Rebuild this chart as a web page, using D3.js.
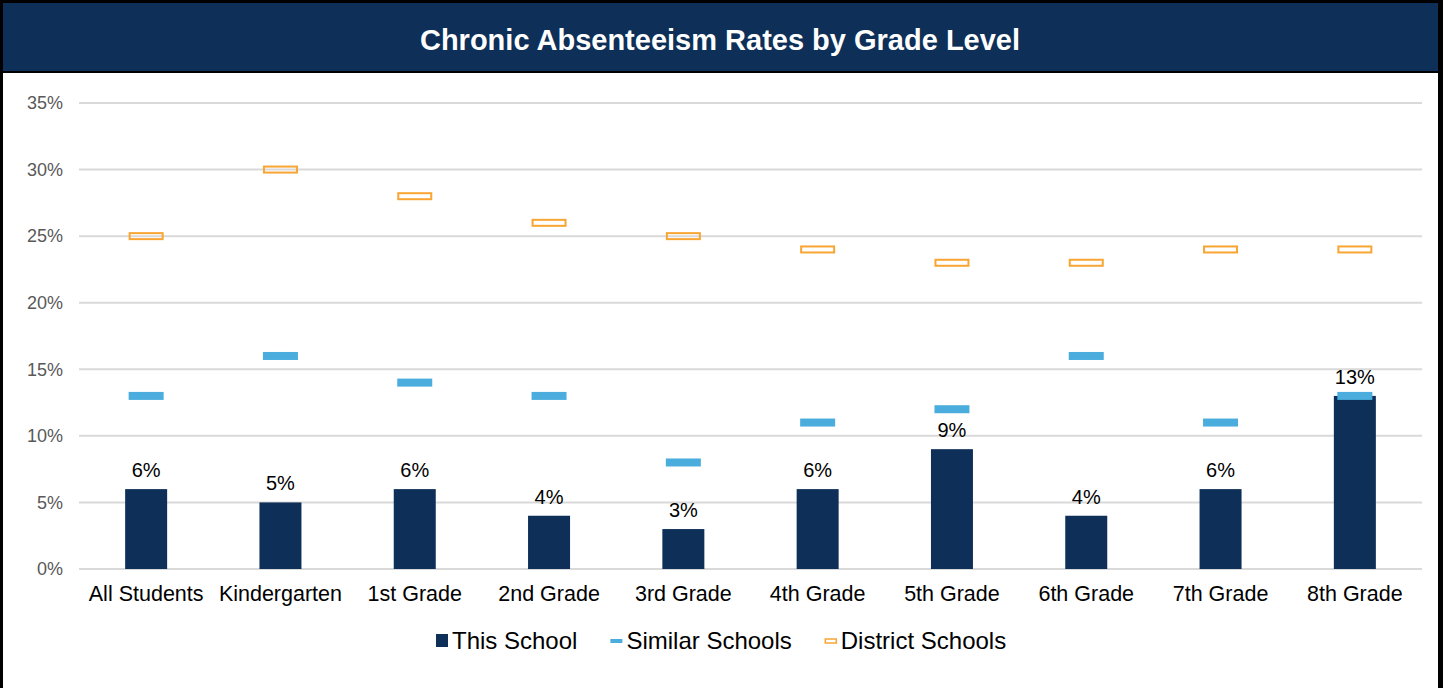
<!DOCTYPE html>
<html>
<head>
<meta charset="utf-8">
<title>Chronic Absenteeism</title>
<script src="https://d3js.org/d3.v7.min.js"></script>
<style>
  body { margin: 0; background: #fff; }
  text { font-family: "Liberation Sans", Arial, sans-serif; }
</style>
</head>
<body>
<div id="chart"></div>
<script>
// chart data
var grades = ["All Students", "Kindergarten", "1st Grade", "2nd Grade", "3rd Grade",
              "4th Grade", "5th Grade", "6th Grade", "7th Grade", "8th Grade"];
var thisSchool = [6, 5, 6, 4, 3, 6, 9, 4, 6, 13];
var similarSchools = [13, 16, 14, 13, 8, 11, 12, 16, 11, 13];
var districtSchools = [25, 30, 28, 26, 25, 24, 23, 23, 24, 24];
var yTicks = [0, 5, 10, 15, 20, 25, 30, 35];
var seriesNames = ["This School", "Similar Schools", "District Schools"];

var W = 1443, H = 688;
var navy = "#0d2f58", blue = "#4aaddd", orange = "#f8a534";

var svg = d3.select("#chart").append("svg")
  .attr("width", W).attr("height", H);

// frame + title band
svg.append("rect").attr("x", 0).attr("y", 0).attr("width", W).attr("height", H).attr("fill", "#000");
svg.append("rect").attr("x", 3).attr("y", 73).attr("width", 1435).attr("height", H - 73).attr("fill", "#fff");
svg.append("rect").attr("x", 3).attr("y", 3).attr("width", 1435).attr("height", 68).attr("fill", navy);
svg.append("text")
  .attr("x", 720).attr("y", 40).attr("dy", "0.35em")
  .attr("text-anchor", "middle")
  .attr("fill", "#fff").attr("font-weight", "bold").attr("font-size", "29px")
  .text("Chronic Absenteeism Rates by Grade Level");

var x = d3.scaleBand().domain(grades).range([79, 1422]).paddingInner(0).paddingOuter(0);
var y = d3.scaleLinear().domain([0, 35]).range([569, 103]);

// gridlines
svg.append("g").selectAll("line").data(yTicks).enter().append("line")
  .attr("x1", 79).attr("x2", 1422)
  .attr("y1", function(d){ return y(d); }).attr("y2", function(d){ return y(d); })
  .attr("stroke", "#d9d9d9").attr("stroke-width", 2);

// y labels
svg.append("g").selectAll("text").data(yTicks).enter().append("text")
  .attr("x", 63).attr("y", function(d){ return y(d); }).attr("dy", "0.35em")
  .attr("text-anchor", "end").attr("font-size", "18px").attr("fill", "#595959")
  .text(function(d){ return d + "%"; });

// x labels
svg.append("g").selectAll("text").data(grades).enter().append("text")
  .attr("x", function(d){ return x(d) + x.bandwidth() / 2; })
  .attr("y", 601).attr("text-anchor", "middle").attr("font-size", "21.5px").attr("fill", "#000")
  .text(function(d){ return d; });

var barW = 42, markW = 35;

// bars
svg.append("g").selectAll("rect").data(thisSchool).enter().append("rect")
  .attr("x", function(d, i){ return x(grades[i]) + x.bandwidth() / 2 - barW / 2; })
  .attr("y", function(d){ return y(d); })
  .attr("width", barW)
  .attr("height", function(d){ return y(0) - y(d); })
  .attr("fill", navy);

// bar labels
svg.append("g").selectAll("text").data(thisSchool).enter().append("text")
  .attr("x", function(d, i){ return x(grades[i]) + x.bandwidth() / 2; })
  .attr("y", function(d){ return y(d) - 12; })
  .attr("text-anchor", "middle").attr("font-size", "20px").attr("fill", "#000")
  .text(function(d){ return d + "%"; });

// district markers (outlined)
svg.append("g").selectAll("rect").data(districtSchools).enter().append("rect")
  .attr("x", function(d, i){ return x(grades[i]) + x.bandwidth() / 2 - markW / 2 + 1; })
  .attr("y", function(d){ return y(d) - 3; })
  .attr("width", markW - 2).attr("height", 6)
  .attr("fill", "none").attr("stroke", orange).attr("stroke-width", 2);

// similar markers (solid)
svg.append("g").selectAll("rect").data(similarSchools).enter().append("rect")
  .attr("x", function(d, i){ return x(grades[i]) + x.bandwidth() / 2 - markW / 2; })
  .attr("y", function(d){ return y(d) - 4; })
  .attr("width", markW).attr("height", 8)
  .attr("fill", blue);

// legend
var legend = svg.append("g");
var lx = 436, ly = 641;
seriesNames.forEach(function(name, i) {
  if (i === 0) {
    legend.append("rect").attr("x", lx).attr("y", ly - 7).attr("width", 12).attr("height", 13).attr("fill", navy);
  } else if (i === 1) {
    legend.append("rect").attr("x", lx).attr("y", ly - 2).attr("width", 12).attr("height", 4).attr("fill", blue);
  } else {
    legend.append("rect").attr("x", lx + 0.5).attr("y", ly - 2).attr("width", 11).attr("height", 4)
      .attr("fill", "none").attr("stroke", orange).attr("stroke-width", 1.5);
  }
  var t = legend.append("text").attr("x", lx + 16).attr("y", ly).attr("dy", "0.35em")
    .attr("font-size", "24px").attr("fill", "#000").text(name);
  lx += 16 + t.node().getComputedTextLength() + 33;
});
</script>
</body>
</html>
